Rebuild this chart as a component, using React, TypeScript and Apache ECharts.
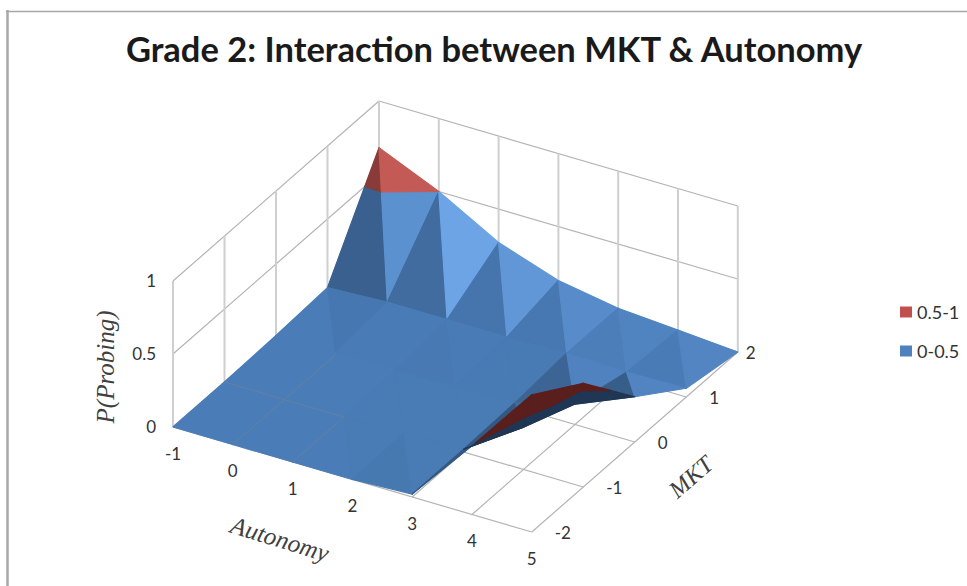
import React, { useEffect, useRef } from "react";
import * as echarts from "echarts";

const title = "Grade 2: Interaction between MKT & Autonomy";
const autonomyTicks = [-1, 0, 1, 2, 3, 4, 5];
const mktTicks = [-2, -1, 0, 1, 2];
const probTicks = [0, 0.5, 1];
const bandThreshold = 0.5;

// P(Probing); rows by MKT, columns by Autonomy
const pMktM2 = [0.0, 0.0, 0.0, 0.0, 0.02, 0.47, 0.94];
const pMktM1 = [0.0, 0.0, 0.0, 0.01, 0.02, 0.29, 0.71];
const pMkt0 = [0.01, 0.01, 0.01, 0.02, 0.03, 0.14, 0.31];
const pMkt1 = [0.03, 0.05, 0.05, 0.05, 0.06, 0.05, 0.06];
const pMkt2 = [0.68, 0.5, 0.27, 0.13, 0.06, 0.03, 0.0];
const surface = [pMktM2, pMktM1, pMkt0, pMkt1, pMkt2];

type V = [number, number, number];
const project = (a: number, m: number, p: number): [number, number] => [
  173 + (a + 1) * 59.8 + (m + 2) * 51.5,
  427 + (a + 1) * 17.5 - (m + 2) * 45 - p * 146,
];

const aMin = autonomyTicks[0];
const aMax = autonomyTicks[autonomyTicks.length - 1];
const mMin = mktTicks[0];
const mMax = mktTicks[mktTicks.length - 1];

// triangles, back corner to front corner
const triangles: V[][] = [];
for (let mi = mktTicks.length - 2; mi >= 0; mi--) {
  for (let ai = 0; ai < autonomyTicks.length - 1; ai++) {
    const a = autonomyTicks[ai], a1 = autonomyTicks[ai + 1];
    const m = mktTicks[mi], m1 = mktTicks[mi + 1];
    const p00: V = [a, m, surface[mi][ai]];
    const p01: V = [a, m1, surface[mi + 1][ai]];
    const p10: V = [a1, m, surface[mi][ai + 1]];
    const p11: V = [a1, m1, surface[mi + 1][ai + 1]];
    triangles.push([p00, p01, p10]);
    triangles.push([p01, p11, p10]);
  }
}

const clip = (tri: V[], keepAbove: boolean): V[] => {
  const out: V[] = [];
  const inside = (v: V) => (keepAbove ? v[2] >= bandThreshold : v[2] <= bandThreshold);
  for (let i = 0; i < tri.length; i++) {
    const c = tri[i], n = tri[(i + 1) % tri.length];
    if (inside(c)) out.push(c);
    if (inside(c) !== inside(n)) {
      const t = (bandThreshold - c[2]) / (n[2] - c[2]);
      out.push([c[0] + (n[0] - c[0]) * t, c[1] + (n[1] - c[1]) * t, bandThreshold]);
    }
  }
  return out;
};

const shade = (tri: V[]) => {
  // plane slope of the facet, p = k + dA*a + dM*m
  const [q, r, s] = tri;
  const ux = r[0] - q[0], uy = r[1] - q[1], uz = r[2] - q[2];
  const vx = s[0] - q[0], vy = s[1] - q[1], vz = s[2] - q[2];
  const nx = uy * vz - uz * vy, ny = uz * vx - ux * vz, nz = ux * vy - uy * vx;
  const dA = -nx / nz, dM = -ny / nz;
  return Math.max(0.7, Math.min(1.35, 1 - 0.3 * dM - 1.65 * dA));
};

const isUnderside = (tri: V[]) => {
  const [q, r, s] = tri.map((v) => project(v[0], v[1], v[2]));
  return (r[0] - q[0]) * (s[1] - q[1]) - (r[1] - q[1]) * (s[0] - q[0]) < 0;
};

const tint = (rgb: number[], lite: number[], f: number) => {
  const c =
    f <= 1
      ? rgb.map((v) => v * f)
      : rgb.map((v, i) => v + ((lite[i] - v) * (f - 1)) / 0.32);
  return `rgb(${c.map((v) => Math.min(255, Math.round(v))).join(",")})`;
};

const blueTop = [74, 125, 184];
const blueLite = [110, 165, 230];
const redTop = [176, 76, 72];
const redLite = [216, 104, 98];
const blueUnder = "#1f3654";
const redUnder = "#5a1f1c";

type Seg = { from: V; to: V; kind: "slant" | "vert" | "faint" };
const gridSegs: Seg[] = [];
probTicks.forEach((p) => {
  gridSegs.push({ from: [aMin, mMin, p], to: [aMin, mMax, p], kind: "slant" });
  gridSegs.push({ from: [aMin, mMax, p], to: [aMax, mMax, p], kind: "slant" });
});
mktTicks.forEach((m) => {
  gridSegs.push({ from: [aMin, m, 0], to: [aMin, m, 1], kind: "vert" });
  gridSegs.push({ from: [aMin, m, 0], to: [aMax, m, 0], kind: "slant" });
});
autonomyTicks.forEach((a) => {
  gridSegs.push({ from: [a, mMax, 0], to: [a, mMax, 1], kind: "vert" });
  gridSegs.push({ from: [a, mMin, 0], to: [a, mMax, 0], kind: "slant" });
});

// floor lines that show faintly through the surface where it lies on the floor
const faintSegs: Seg[] = [
  { from: [0, mMin, 0], to: [0, 0, 0], kind: "faint" },
  { from: [1, mMin, 0], to: [1, -1, 0], kind: "faint" },
  { from: [aMin, -1, 0], to: [1, -1, 0], kind: "faint" },
];

const segStroke = { slant: "#b4b4b4", vert: "#cfcfcf", faint: "#64809f" };
const segWidth = { slant: 1.2, vert: 2, faint: 1 };

const segmentSeries = (name: string, segs: Seg[], z: number) => ({
  type: "custom",
  name,
  z,
  silent: true,
  data: segs.map((_, i) => [i, 0]),
  renderItem: (params: any, api: any) => {
    const s = segs[params.dataIndex];
    const [x1, y1] = api.coord(project(s.from[0], s.from[1], s.from[2]));
    const [x2, y2] = api.coord(project(s.to[0], s.to[1], s.to[2]));
    return {
      type: "line",
      shape: { x1, y1, x2, y2 },
      style: { stroke: segStroke[s.kind], lineWidth: segWidth[s.kind] },
    };
  },
});

const bandSeries = (name: string, keepAbove: boolean, top: number[], lite: number[], under: string, color: string, z: number) => ({
  type: "custom",
  name,
  z,
  silent: true,
  itemStyle: { color },
  data: triangles.map((_, i) => [i, 0]),
  renderItem: (params: any, api: any) => {
    const tri = triangles[params.dataIndex];
    const poly = clip(tri, keepAbove);
    if (poly.length < 3) return null;
    const fill = isUnderside(tri) ? under : tint(top, lite, shade(tri));
    return {
      type: "polygon",
      shape: { points: poly.map((v) => api.coord(project(v[0], v[1], v[2]))) },
      style: { fill, stroke: fill, lineWidth: 1.2, lineJoin: "round" },
    };
  },
});

type Lab = { text: string; at: V; dx: number; dy: number; align: string };
const mktLabelDx = [23, 23, 23, 23, 8];
const labels: Lab[] = [
  ...autonomyTicks.map((a) => ({ text: String(a), at: [a, mMin, 0] as V, dx: 0, dy: 26, align: "center" })),
  ...mktTicks.map((m, i) => ({ text: String(m), at: [aMax, m, 0] as V, dx: mktLabelDx[i], dy: 0, align: "left" })),
  ...probTicks.map((p) => ({ text: String(p), at: [aMin, mMin, p] as V, dx: -17, dy: -1, align: "right" })),
];

const labelSeries = {
  type: "custom",
  name: "ticks",
  z: 10,
  silent: true,
  data: labels.map((_, i) => [i, 0]),
  renderItem: (params: any, api: any) => {
    const l = labels[params.dataIndex];
    const [x, y] = api.coord(project(l.at[0], l.at[1], l.at[2]));
    return {
      type: "text",
      x: x + l.dx,
      y: y + l.dy,
      style: {
        text: l.text,
        font: "17px Lato",
        fill: "#333333",
        align: l.align,
        verticalAlign: "middle",
      },
    };
  },
};

const axisTitle = (text: string, x: number, y: number, deg: number, size: number) => ({
  type: "text",
  x,
  y,
  rotation: (deg * Math.PI) / 180,
  style: {
    text,
    font: `italic ${size}px "Liberation Serif"`,
    fill: "#404040",
    align: "center",
    verticalAlign: "middle",
  },
});

export default function App() {
  const ref = useRef<HTMLDivElement>(null);
  useEffect(() => {
    const chart = echarts.init(ref.current!, undefined, { renderer: "svg" });
    chart.setOption({
      animation: false,
      backgroundColor: "#ffffff",
      grid: { left: 0, right: 0, top: 0, bottom: 0 },
      xAxis: { type: "value", min: 0, max: 967, show: false },
      yAxis: { type: "value", min: 0, max: 586, inverse: true, show: false },
      title: {
        text: title,
        left: 489,
        top: 26,
        textAlign: "center",
        textStyle: { fontFamily: "Lato", fontWeight: "bold", fontSize: 34.5, color: "#1a1a1a" },
      },
      legend: {
        orient: "vertical",
        left: 900,
        top: 303,
        itemWidth: 12,
        itemHeight: 11,
        itemGap: 21,
        padding: 0,
        icon: "rect",
        data: ["0.5-1", "0-0.5"],
        textStyle: { fontFamily: "Lato", fontSize: 18, color: "#333333" },
        selectedMode: false,
      },
      graphic: [
        { type: "line", shape: { x1: 7.5, y1: 10, x2: 7.5, y2: 586 }, style: { stroke: "#a8a8a8", lineWidth: 2.5 } },
        { type: "line", shape: { x1: 6, y1: 11.5, x2: 967, y2: 11.5 }, style: { stroke: "#a8a8a8", lineWidth: 1.5 } },
        axisTitle("P(Probing)", 105, 367, 90, 25),
        axisTitle("Autonomy", 280, 539, -17, 25),
        axisTitle("MKT", 691, 477, 41, 24),
      ],
      series: [
        segmentSeries("grid", gridSegs, 1),
        bandSeries("0-0.5", false, blueTop, blueLite, blueUnder, "#4f81bd", 2),
        bandSeries("0.5-1", true, redTop, redLite, redUnder, "#c0504d", 3),
        segmentSeries("floor", faintSegs, 4),
        labelSeries,
      ],
    });
    return () => chart.dispose();
  }, []);
  return <div ref={ref} style={{ position: "absolute", left: 0, top: 0, width: 967, height: 586 }} />;
}
